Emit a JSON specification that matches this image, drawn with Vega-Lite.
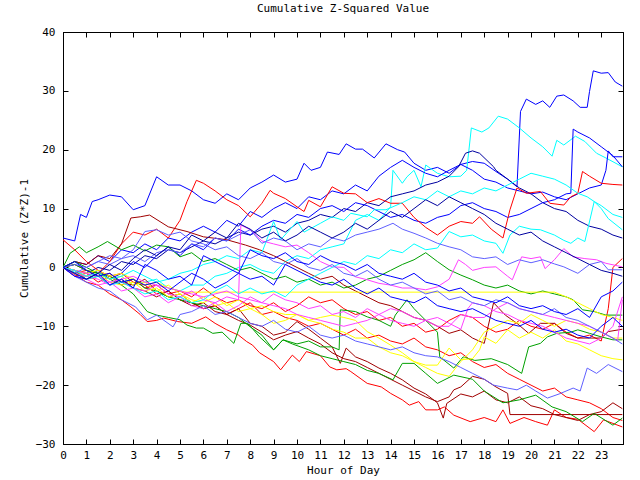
{
"$schema":"https://vega.github.io/schema/vega-lite/v6.json",
"width":560,"height":412,
"autosize":{"type":"none"},
"padding":{"left":63,"top":32,"right":17,"bottom":36},
"background":"#ffffff",
"title":{"text":"Cumulative Z-Squared Value","font":"DejaVu Sans Mono","fontSize":11,"fontWeight":"normal","color":"#000000","offset":12},
"config":{"view":{"stroke":"#000000","strokeWidth":1},"axis":{"grid":false,"labelFont":"DejaVu Sans Mono","titleFont":"DejaVu Sans Mono","labelFontSize":11,"titleFontSize":11,"titleFontWeight":"normal","labelColor":"#000000","titleColor":"#000000","domainColor":"#000000","tickColor":"#000000","tickSize":-5,"labelFlush":false,"labelOverlap":false}},
"data":{"values":[
{"s":"b1","x":0,"y":5},{"s":"b1","x":0.5,"y":4.5},{"s":"b1","x":0.75,"y":9},{"s":"b1","x":1,"y":8.5},{"s":"b1","x":1.25,"y":11.2},{"s":"b1","x":1.5,"y":11.5},{"s":"b1","x":2,"y":12.3},{"s":"b1","x":2.5,"y":12},{"s":"b1","x":3,"y":9.8},{"s":"b1","x":3.5,"y":10.5},{"s":"b1","x":4,"y":15.4},{"s":"b1","x":4.5,"y":14},{"s":"b1","x":5,"y":14},{"s":"b1","x":5.5,"y":13},{"s":"b1","x":6,"y":11.5},{"s":"b1","x":6.5,"y":10.9},{"s":"b1","x":7,"y":12.5},{"s":"b1","x":7.5,"y":11.5},{"s":"b1","x":8,"y":13.5},{"s":"b1","x":8.5,"y":14.5},{"s":"b1","x":9,"y":15.7},{"s":"b1","x":9.5,"y":14.5},{"s":"b1","x":10,"y":15},{"s":"b1","x":10.3,"y":17.7},{"s":"b1","x":10.6,"y":16.5},{"s":"b1","x":11,"y":17},{"s":"b1","x":11.3,"y":19.6},{"s":"b1","x":11.8,"y":19.2},{"s":"b1","x":12.1,"y":21},{"s":"b1","x":12.5,"y":20.1},{"s":"b1","x":12.8,"y":20.1},{"s":"b1","x":13.3,"y":18.6},{"s":"b1","x":13.8,"y":21},{"s":"b1","x":14.3,"y":20},{"s":"b1","x":14.6,"y":19.6},{"s":"b1","x":15,"y":17.7},{"s":"b1","x":15.5,"y":16.5},{"s":"b1","x":16,"y":17},{"s":"b1","x":16.5,"y":16},{"s":"b1","x":17,"y":17.5},{"s":"b1","x":17.5,"y":18},{"s":"b1","x":18,"y":17.7},{"s":"b1","x":18.5,"y":16.3},{"s":"b1","x":19,"y":15},{"s":"b1","x":19.4,"y":13.7},{"s":"b1","x":19.55,"y":26.5},{"s":"b1","x":19.8,"y":28.6},{"s":"b1","x":20.2,"y":27.7},{"s":"b1","x":20.5,"y":28.3},{"s":"b1","x":20.8,"y":27.2},{"s":"b1","x":21.1,"y":29.1},{"s":"b1","x":21.4,"y":29.3},{"s":"b1","x":21.8,"y":28.3},{"s":"b1","x":22.1,"y":27.2},{"s":"b1","x":22.4,"y":27.2},{"s":"b1","x":22.5,"y":29.9},{"s":"b1","x":22.66,"y":33.4},{"s":"b1","x":23,"y":33},{"s":"b1","x":23.3,"y":33.1},{"s":"b1","x":23.6,"y":31.5},{"s":"b1","x":23.9,"y":30.8},
{"s":"c1","x":0,"y":0},{"s":"c1","x":0.5,"y":-0.8},{"s":"c1","x":1,"y":-1.5},{"s":"c1","x":1.5,"y":-1},{"s":"c1","x":2,"y":-2},{"s":"c1","x":2.5,"y":-1.5},{"s":"c1","x":3,"y":-3},{"s":"c1","x":3.5,"y":-2.5},{"s":"c1","x":4,"y":-2},{"s":"c1","x":4.5,"y":-3.5},{"s":"c1","x":5,"y":-4},{"s":"c1","x":5.5,"y":-3},{"s":"c1","x":6,"y":-3},{"s":"c1","x":6.5,"y":-1.5},{"s":"c1","x":7,"y":-1},{"s":"c1","x":7.5,"y":0},{"s":"c1","x":8,"y":0.5},{"s":"c1","x":8.5,"y":-0.5},{"s":"c1","x":9,"y":-1},{"s":"c1","x":9.5,"y":1},{"s":"c1","x":10,"y":2},{"s":"c1","x":10.5,"y":1.5},{"s":"c1","x":11,"y":3},{"s":"c1","x":11.5,"y":3.5},{"s":"c1","x":12,"y":4},{"s":"c1","x":12.5,"y":8},{"s":"c1","x":13,"y":9},{"s":"c1","x":13.5,"y":8},{"s":"c1","x":14,"y":10.3},{"s":"c1","x":14.1,"y":16.5},{"s":"c1","x":14.5,"y":14.3},{"s":"c1","x":14.7,"y":15.4},{"s":"c1","x":15,"y":16.5},{"s":"c1","x":15.3,"y":13.7},{"s":"c1","x":15.5,"y":17.4},{"s":"c1","x":16,"y":16},{"s":"c1","x":16.5,"y":15.4},{"s":"c1","x":17,"y":15.5},{"s":"c1","x":17.25,"y":16.5},{"s":"c1","x":17.45,"y":23.7},{"s":"c1","x":17.9,"y":23},{"s":"c1","x":18.2,"y":23.7},{"s":"c1","x":18.6,"y":25.7},{"s":"c1","x":19,"y":25.2},{"s":"c1","x":19.5,"y":23.7},{"s":"c1","x":20,"y":22},{"s":"c1","x":20.5,"y":20.5},{"s":"c1","x":20.9,"y":18.9},{"s":"c1","x":21.1,"y":21.6},{"s":"c1","x":21.4,"y":20.8},{"s":"c1","x":21.9,"y":22.3},{"s":"c1","x":22.3,"y":21.4},{"s":"c1","x":22.8,"y":19.4},{"s":"c1","x":23.2,"y":18.6},{"s":"c1","x":23.9,"y":17.1},
{"s":"b2","x":0,"y":0},{"s":"b2","x":0.5,"y":1},{"s":"b2","x":1,"y":0.5},{"s":"b2","x":1.5,"y":2},{"s":"b2","x":2,"y":1},{"s":"b2","x":2.5,"y":3},{"s":"b2","x":3,"y":2.5},{"s":"b2","x":3.5,"y":4},{"s":"b2","x":4,"y":3},{"s":"b2","x":4.5,"y":5},{"s":"b2","x":5,"y":4.5},{"s":"b2","x":5.5,"y":6},{"s":"b2","x":6,"y":7},{"s":"b2","x":6.5,"y":6},{"s":"b2","x":7,"y":8},{"s":"b2","x":7.5,"y":7},{"s":"b2","x":8,"y":9.5},{"s":"b2","x":8.5,"y":8.5},{"s":"b2","x":9,"y":10},{"s":"b2","x":9.5,"y":11},{"s":"b2","x":10,"y":10},{"s":"b2","x":10.5,"y":12},{"s":"b2","x":11,"y":11.5},{"s":"b2","x":11.5,"y":13},{"s":"b2","x":12,"y":12.5},{"s":"b2","x":12.5,"y":14},{"s":"b2","x":13,"y":13},{"s":"b2","x":13.5,"y":15.5},{"s":"b2","x":14,"y":17},{"s":"b2","x":14.5,"y":18.2},{"s":"b2","x":15,"y":17},{"s":"b2","x":15.5,"y":16},{"s":"b2","x":16,"y":15.4},{"s":"b2","x":16.5,"y":16.5},{"s":"b2","x":17,"y":17.5},{"s":"b2","x":17.5,"y":16.5},{"s":"b2","x":18,"y":15},{"s":"b2","x":18.5,"y":14.5},{"s":"b2","x":19,"y":13.5},{"s":"b2","x":19.5,"y":13},{"s":"b2","x":20,"y":12.5},{"s":"b2","x":20.5,"y":12.8},{"s":"b2","x":21,"y":12},{"s":"b2","x":21.5,"y":11.5},{"s":"b2","x":22,"y":12.5},{"s":"b2","x":22.5,"y":13.5},{"s":"b2","x":23,"y":14},{"s":"b2","x":23.2,"y":16.5},{"s":"b2","x":23.3,"y":19.8},{"s":"b2","x":23.5,"y":18.8},{"s":"b2","x":23.9,"y":18.8},
{"s":"n1","x":0,"y":0},{"s":"n1","x":0.5,"y":-0.5},{"s":"n1","x":1,"y":-1},{"s":"n1","x":1.5,"y":0},{"s":"n1","x":2,"y":-0.5},{"s":"n1","x":2.5,"y":1},{"s":"n1","x":3,"y":0.5},{"s":"n1","x":3.5,"y":2},{"s":"n1","x":4,"y":1.5},{"s":"n1","x":4.5,"y":3},{"s":"n1","x":5,"y":2.5},{"s":"n1","x":5.5,"y":3.5},{"s":"n1","x":6,"y":4.5},{"s":"n1","x":6.5,"y":4},{"s":"n1","x":7,"y":5},{"s":"n1","x":7.5,"y":6},{"s":"n1","x":8,"y":5.5},{"s":"n1","x":8.5,"y":6.5},{"s":"n1","x":9,"y":7},{"s":"n1","x":9.5,"y":6},{"s":"n1","x":10,"y":7.5},{"s":"n1","x":10.5,"y":8},{"s":"n1","x":11,"y":9},{"s":"n1","x":11.5,"y":8.5},{"s":"n1","x":12,"y":10},{"s":"n1","x":12.5,"y":9.5},{"s":"n1","x":13,"y":11},{"s":"n1","x":13.5,"y":10.5},{"s":"n1","x":14,"y":12},{"s":"n1","x":14.5,"y":12.5},{"s":"n1","x":15,"y":13},{"s":"n1","x":15.5,"y":14},{"s":"n1","x":16,"y":14.5},{"s":"n1","x":16.5,"y":15.5},{"s":"n1","x":16.9,"y":17.1},{"s":"n1","x":17.2,"y":19.4},{"s":"n1","x":17.5,"y":19.8},{"s":"n1","x":17.8,"y":19.4},{"s":"n1","x":18.4,"y":17.1},{"s":"n1","x":18.5,"y":16.5},{"s":"n1","x":19,"y":15},{"s":"n1","x":19.5,"y":13.5},{"s":"n1","x":20,"y":12.5},{"s":"n1","x":20.5,"y":11},{"s":"n1","x":21,"y":10},{"s":"n1","x":21.5,"y":9.5},{"s":"n1","x":22,"y":8},{"s":"n1","x":22.5,"y":7},{"s":"n1","x":23,"y":6.5},{"s":"n1","x":23.5,"y":5.5},{"s":"n1","x":23.9,"y":5},
{"s":"b3","x":0,"y":0},{"s":"b3","x":0.5,"y":-1},{"s":"b3","x":1,"y":-1.5},{"s":"b3","x":1.5,"y":-0.5},{"s":"b3","x":2,"y":-2},{"s":"b3","x":2.5,"y":-1},{"s":"b3","x":3,"y":1},{"s":"b3","x":3.5,"y":0},{"s":"b3","x":4,"y":2},{"s":"b3","x":4.5,"y":3.5},{"s":"b3","x":5,"y":2},{"s":"b3","x":5.5,"y":4},{"s":"b3","x":6,"y":3},{"s":"b3","x":6.5,"y":5},{"s":"b3","x":7,"y":4.5},{"s":"b3","x":7.5,"y":6.5},{"s":"b3","x":8,"y":5.5},{"s":"b3","x":8.5,"y":7},{"s":"b3","x":9,"y":8},{"s":"b3","x":9.5,"y":7.5},{"s":"b3","x":10,"y":9},{"s":"b3","x":10.5,"y":8.5},{"s":"b3","x":11,"y":10},{"s":"b3","x":11.5,"y":10.5},{"s":"b3","x":12,"y":9.5},{"s":"b3","x":12.5,"y":11},{"s":"b3","x":13,"y":10.5},{"s":"b3","x":13.5,"y":9.5},{"s":"b3","x":14,"y":8.5},{"s":"b3","x":14.5,"y":9},{"s":"b3","x":15,"y":8},{"s":"b3","x":15.5,"y":7.5},{"s":"b3","x":16,"y":8.5},{"s":"b3","x":16.5,"y":9},{"s":"b3","x":17,"y":10.5},{"s":"b3","x":17.5,"y":11},{"s":"b3","x":18,"y":10},{"s":"b3","x":18.5,"y":9.5},{"s":"b3","x":19,"y":8.5},{"s":"b3","x":19.5,"y":9},{"s":"b3","x":20,"y":10},{"s":"b3","x":20.5,"y":11},{"s":"b3","x":21,"y":11.5},{"s":"b3","x":21.5,"y":12.5},{"s":"b3","x":21.7,"y":12.6},{"s":"b3","x":21.8,"y":23.5},{"s":"b3","x":22,"y":23},{"s":"b3","x":22.5,"y":22},{"s":"b3","x":23,"y":20.5},{"s":"b3","x":23.5,"y":19},{"s":"b3","x":23.9,"y":17.1},
{"s":"r1","x":0,"y":0},{"s":"r1","x":0.5,"y":-1},{"s":"r1","x":1,"y":-0.5},{"s":"r1","x":1.5,"y":-1},{"s":"r1","x":2,"y":1},{"s":"r1","x":2.5,"y":4},{"s":"r1","x":3,"y":6},{"s":"r1","x":3.5,"y":5.5},{"s":"r1","x":4,"y":6.5},{"s":"r1","x":4.5,"y":5},{"s":"r1","x":5,"y":8},{"s":"r1","x":5.3,"y":11.2},{"s":"r1","x":5.7,"y":14.8},{"s":"r1","x":6,"y":14.3},{"s":"r1","x":6.5,"y":13},{"s":"r1","x":7,"y":11.5},{"s":"r1","x":7.5,"y":10.5},{"s":"r1","x":8,"y":8.6},{"s":"r1","x":8.5,"y":10.9},{"s":"r1","x":8.85,"y":13.1},{"s":"r1","x":9,"y":12.6},{"s":"r1","x":9.5,"y":11.7},{"s":"r1","x":10,"y":10.3},{"s":"r1","x":10.3,"y":9.5},{"s":"r1","x":10.5,"y":11.4},{"s":"r1","x":11,"y":10.3},{"s":"r1","x":11.5,"y":13.7},{"s":"r1","x":12,"y":12.6},{"s":"r1","x":12.5,"y":12.5},{"s":"r1","x":13,"y":11},{"s":"r1","x":13.5,"y":11.7},{"s":"r1","x":14,"y":10.9},{"s":"r1","x":14.5,"y":10.9},{"s":"r1","x":15,"y":8.5},{"s":"r1","x":15.5,"y":6.8},{"s":"r1","x":16,"y":5.5},{"s":"r1","x":16.5,"y":7},{"s":"r1","x":17,"y":7.8},{"s":"r1","x":17.5,"y":7.5},{"s":"r1","x":17.8,"y":8.6},{"s":"r1","x":18.3,"y":6.5},{"s":"r1","x":18.8,"y":5},{"s":"r1","x":19.1,"y":9.8},{"s":"r1","x":19.4,"y":13.5},{"s":"r1","x":19.8,"y":12.6},{"s":"r1","x":20.4,"y":12.9},{"s":"r1","x":20.8,"y":10.9},{"s":"r1","x":21.4,"y":10.6},{"s":"r1","x":21.7,"y":12},{"s":"r1","x":22,"y":12.6},{"s":"r1","x":22.2,"y":16.3},{"s":"r1","x":22.5,"y":15.5},{"s":"r1","x":23,"y":14.3},{"s":"r1","x":23.5,"y":14.1},{"s":"r1","x":23.9,"y":14},
{"s":"r2","x":0,"y":0},{"s":"r2","x":0.5,"y":-1.2},{"s":"r2","x":1,"y":-2.5},{"s":"r2","x":1.5,"y":-3},{"s":"r2","x":2,"y":-4.5},{"s":"r2","x":2.5,"y":-5.5},{"s":"r2","x":2.9,"y":-6.7},{"s":"r2","x":3.3,"y":-8},{"s":"r2","x":3.6,"y":-9.2},{"s":"r2","x":4,"y":-9},{"s":"r2","x":4.3,"y":-8.6},{"s":"r2","x":4.9,"y":-9.2},{"s":"r2","x":5.5,"y":-9.5},{"s":"r2","x":6.1,"y":-8.4},{"s":"r2","x":6.5,"y":-9.5},{"s":"r2","x":7,"y":-10.6},{"s":"r2","x":7.5,"y":-11.5},{"s":"r2","x":7.85,"y":-12.6},{"s":"r2","x":8.1,"y":-13.2},{"s":"r2","x":8.4,"y":-14.5},{"s":"r2","x":9,"y":-16},{"s":"r2","x":9.3,"y":-17.4},{"s":"r2","x":9.8,"y":-14.9},{"s":"r2","x":10.1,"y":-16},{"s":"r2","x":10.4,"y":-14.3},{"s":"r2","x":11,"y":-15},{"s":"r2","x":11.4,"y":-16.9},{"s":"r2","x":11.7,"y":-17.4},{"s":"r2","x":12.1,"y":-17.2},{"s":"r2","x":12.3,"y":-17.7},{"s":"r2","x":13,"y":-19.7},{"s":"r2","x":13.6,"y":-20.3},{"s":"r2","x":14,"y":-21.4},{"s":"r2","x":14.5,"y":-22.5},{"s":"r2","x":14.8,"y":-23.4},{"s":"r2","x":15.2,"y":-22.8},{"s":"r2","x":15.5,"y":-24.2},{"s":"r2","x":16,"y":-24.2},{"s":"r2","x":16.3,"y":-23.7},{"s":"r2","x":16.7,"y":-25.1},{"s":"r2","x":17.4,"y":-26.2},{"s":"r2","x":18,"y":-25.5},{"s":"r2","x":18.5,"y":-26.2},{"s":"r2","x":18.8,"y":-24.2},{"s":"r2","x":19.1,"y":-26.5},{"s":"r2","x":19.7,"y":-25.5},{"s":"r2","x":20.2,"y":-26.2},{"s":"r2","x":20.7,"y":-26.8},{"s":"r2","x":21,"y":-24.2},{"s":"r2","x":21.5,"y":-25.5},{"s":"r2","x":22,"y":-25.8},{"s":"r2","x":22.7,"y":-27.9},{"s":"r2","x":23.1,"y":-25.9},{"s":"r2","x":23.9,"y":-27.1},
{"s":"r3","x":0,"y":0},{"s":"r3","x":0.5,"y":-1.5},{"s":"r3","x":1,"y":-1},{"s":"r3","x":1.5,"y":-2.5},{"s":"r3","x":2,"y":-1.5},{"s":"r3","x":2.5,"y":-3},{"s":"r3","x":3,"y":-2},{"s":"r3","x":3.5,"y":-3.5},{"s":"r3","x":4,"y":-3},{"s":"r3","x":4.5,"y":-4.5},{"s":"r3","x":5,"y":-4},{"s":"r3","x":5.5,"y":-5},{"s":"r3","x":6,"y":-3.5},{"s":"r3","x":6.5,"y":-5},{"s":"r3","x":7,"y":-6},{"s":"r3","x":7.5,"y":-5.5},{"s":"r3","x":8,"y":-6.5},{"s":"r3","x":8.5,"y":-7},{"s":"r3","x":9,"y":-6},{"s":"r3","x":9.5,"y":-7.5},{"s":"r3","x":10,"y":-6.5},{"s":"r3","x":10.5,"y":-5},{"s":"r3","x":11,"y":-6},{"s":"r3","x":11.5,"y":-5.5},{"s":"r3","x":12,"y":-7},{"s":"r3","x":12.5,"y":-8},{"s":"r3","x":13,"y":-7.5},{"s":"r3","x":13.5,"y":-9},{"s":"r3","x":14,"y":-8.5},{"s":"r3","x":14.5,"y":-10},{"s":"r3","x":15,"y":-9.5},{"s":"r3","x":15.5,"y":-11},{"s":"r3","x":16,"y":-10.5},{"s":"r3","x":16.5,"y":-9},{"s":"r3","x":17,"y":-8},{"s":"r3","x":17.5,"y":-8.5},{"s":"r3","x":18,"y":-10},{"s":"r3","x":18.5,"y":-11},{"s":"r3","x":19,"y":-10.5},{"s":"r3","x":19.5,"y":-9},{"s":"r3","x":20,"y":-10},{"s":"r3","x":20.5,"y":-10.5},{"s":"r3","x":21,"y":-9.5},{"s":"r3","x":21.5,"y":-11},{"s":"r3","x":22,"y":-12},{"s":"r3","x":22.5,"y":-11.5},{"s":"r3","x":23,"y":-12.5},{"s":"r3","x":23.3,"y":-7},{"s":"r3","x":23.5,"y":0},{"s":"r3","x":23.9,"y":1.5},
{"s":"r4","x":0,"y":4.7},{"s":"r4","x":0.5,"y":3},{"s":"r4","x":1,"y":1},{"s":"r4","x":1.5,"y":-0.5},{"s":"r4","x":2,"y":-1.5},{"s":"r4","x":2.5,"y":-1},{"s":"r4","x":3,"y":-2.5},{"s":"r4","x":3.5,"y":-3},{"s":"r4","x":4,"y":-4.5},{"s":"r4","x":4.5,"y":-4},{"s":"r4","x":5,"y":-5.5},{"s":"r4","x":5.5,"y":-6},{"s":"r4","x":6,"y":-7},{"s":"r4","x":6.5,"y":-6.5},{"s":"r4","x":7,"y":-8},{"s":"r4","x":7.5,"y":-7},{"s":"r4","x":8,"y":-6},{"s":"r4","x":8.5,"y":-8},{"s":"r4","x":9,"y":-7.5},{"s":"r4","x":9.5,"y":-8.5},{"s":"r4","x":10,"y":-9},{"s":"r4","x":10.5,"y":-10},{"s":"r4","x":11,"y":-9.5},{"s":"r4","x":11.5,"y":-10.5},{"s":"r4","x":12,"y":-11.5},{"s":"r4","x":12.5,"y":-10.5},{"s":"r4","x":13,"y":-12},{"s":"r4","x":13.5,"y":-11.5},{"s":"r4","x":14,"y":-12.5},{"s":"r4","x":14.5,"y":-13},{"s":"r4","x":15,"y":-12},{"s":"r4","x":15.5,"y":-13.5},{"s":"r4","x":16,"y":-14},{"s":"r4","x":16.5,"y":-15},{"s":"r4","x":17,"y":-14.5},{"s":"r4","x":17.5,"y":-16},{"s":"r4","x":18,"y":-17},{"s":"r4","x":18.5,"y":-16.5},{"s":"r4","x":19,"y":-18},{"s":"r4","x":19.5,"y":-19},{"s":"r4","x":20,"y":-20},{"s":"r4","x":20.5,"y":-21},{"s":"r4","x":21,"y":-20.5},{"s":"r4","x":21.5,"y":-22},{"s":"r4","x":22,"y":-22.5},{"s":"r4","x":22.5,"y":-23},{"s":"r4","x":23,"y":-24},{"s":"r4","x":23.5,"y":-25.5},{"s":"r4","x":23.9,"y":-26},
{"s":"d1","x":0,"y":0},{"s":"d1","x":0.5,"y":0.5},{"s":"d1","x":1,"y":-0.5},{"s":"d1","x":1.5,"y":-1.5},{"s":"d1","x":2,"y":-1},{"s":"d1","x":2.5,"y":-2.5},{"s":"d1","x":3,"y":-3},{"s":"d1","x":3.5,"y":-2},{"s":"d1","x":4,"y":-4},{"s":"d1","x":4.5,"y":-5},{"s":"d1","x":5,"y":-4.5},{"s":"d1","x":5.5,"y":-6},{"s":"d1","x":6,"y":-7},{"s":"d1","x":6.5,"y":-6.5},{"s":"d1","x":7,"y":-8},{"s":"d1","x":7.5,"y":-9},{"s":"d1","x":8,"y":-9.8},{"s":"d1","x":8.5,"y":-11},{"s":"d1","x":9,"y":-12.3},{"s":"d1","x":9.5,"y":-11.5},{"s":"d1","x":10,"y":-10.9},{"s":"d1","x":10.5,"y":-12},{"s":"d1","x":11,"y":-13},{"s":"d1","x":11.5,"y":-14.5},{"s":"d1","x":12,"y":-15.5},{"s":"d1","x":12.5,"y":-16},{"s":"d1","x":13,"y":-17},{"s":"d1","x":13.5,"y":-18},{"s":"d1","x":14,"y":-19},{"s":"d1","x":14.5,"y":-20},{"s":"d1","x":15,"y":-21},{"s":"d1","x":15.5,"y":-22},{"s":"d1","x":16,"y":-22.8},{"s":"d1","x":16.5,"y":-22},{"s":"d1","x":16.7,"y":-20.8},{"s":"d1","x":17,"y":-20.3},{"s":"d1","x":17.5,"y":-18.5},{"s":"d1","x":18,"y":-19},{"s":"d1","x":18.5,"y":-20.3},{"s":"d1","x":19,"y":-21.4},{"s":"d1","x":19.1,"y":-25},{"s":"d1","x":23.9,"y":-25},
{"s":"d2","x":0,"y":0},{"s":"d2","x":0.5,"y":-0.5},{"s":"d2","x":1,"y":-2},{"s":"d2","x":1.5,"y":-1.5},{"s":"d2","x":2,"y":-3},{"s":"d2","x":2.5,"y":-2},{"s":"d2","x":3,"y":-3.5},{"s":"d2","x":3.5,"y":-4},{"s":"d2","x":4,"y":-5},{"s":"d2","x":4.5,"y":-4},{"s":"d2","x":5,"y":-5.5},{"s":"d2","x":5.5,"y":-6.5},{"s":"d2","x":6,"y":-6},{"s":"d2","x":6.5,"y":-7.5},{"s":"d2","x":7,"y":-8},{"s":"d2","x":7.5,"y":-7},{"s":"d2","x":8,"y":-9.5},{"s":"d2","x":8.5,"y":-10},{"s":"d2","x":9,"y":-11.5},{"s":"d2","x":9.5,"y":-11},{"s":"d2","x":10,"y":-9.2},{"s":"d2","x":10.5,"y":-10.5},{"s":"d2","x":11,"y":-12},{"s":"d2","x":11.5,"y":-13.5},{"s":"d2","x":11.85,"y":-16.3},{"s":"d2","x":12.1,"y":-13.7},{"s":"d2","x":12.5,"y":-15.2},{"s":"d2","x":13,"y":-16},{"s":"d2","x":13.5,"y":-17.1},{"s":"d2","x":14,"y":-18},{"s":"d2","x":14.5,"y":-19.1},{"s":"d2","x":15,"y":-20.5},{"s":"d2","x":15.5,"y":-21.5},{"s":"d2","x":16,"y":-23},{"s":"d2","x":16.25,"y":-25.6},{"s":"d2","x":16.4,"y":-23.1},{"s":"d2","x":17,"y":-21.5},{"s":"d2","x":17.5,"y":-22},{"s":"d2","x":18,"y":-21},{"s":"d2","x":18.5,"y":-22.5},{"s":"d2","x":19,"y":-23},{"s":"d2","x":19.5,"y":-22},{"s":"d2","x":20,"y":-23.5},{"s":"d2","x":20.5,"y":-24},{"s":"d2","x":21,"y":-25},{"s":"d2","x":21.5,"y":-25.5},{"s":"d2","x":22,"y":-26},{"s":"d2","x":22.5,"y":-25},{"s":"d2","x":23,"y":-24.5},{"s":"d2","x":23.5,"y":-23},{"s":"d2","x":23.9,"y":-24},
{"s":"d3","x":0,"y":0},{"s":"d3","x":0.5,"y":1},{"s":"d3","x":1,"y":0.5},{"s":"d3","x":1.5,"y":2},{"s":"d3","x":2,"y":1.5},{"s":"d3","x":2.5,"y":4},{"s":"d3","x":2.9,"y":8.4},{"s":"d3","x":3.3,"y":8.6},{"s":"d3","x":3.7,"y":8.9},{"s":"d3","x":4.5,"y":6.9},{"s":"d3","x":5.3,"y":6.1},{"s":"d3","x":6,"y":5.2},{"s":"d3","x":7,"y":4.7},{"s":"d3","x":7.8,"y":3.8},{"s":"d3","x":8.4,"y":3},{"s":"d3","x":9,"y":2},{"s":"d3","x":9.5,"y":1},{"s":"d3","x":10,"y":0},{"s":"d3","x":10.5,"y":-1},{"s":"d3","x":11,"y":-2},{"s":"d3","x":11.5,"y":-1.5},{"s":"d3","x":12,"y":-3},{"s":"d3","x":12.5,"y":-4},{"s":"d3","x":13,"y":-5},{"s":"d3","x":13.5,"y":-6},{"s":"d3","x":14,"y":-6.5},{"s":"d3","x":14.5,"y":-7.5},{"s":"d3","x":15,"y":-8.5},{"s":"d3","x":15.5,"y":-9},{"s":"d3","x":16,"y":-10},{"s":"d3","x":16.5,"y":-11.2},{"s":"d3","x":17,"y":-10.6},{"s":"d3","x":17.5,"y":-12},{"s":"d3","x":18,"y":-12.9},{"s":"d3","x":18.4,"y":-6},{"s":"d3","x":18.9,"y":-8.1},{"s":"d3","x":19.4,"y":-9.5},{"s":"d3","x":19.9,"y":-11.2},{"s":"d3","x":20.4,"y":-9.5},{"s":"d3","x":21,"y":-9.5},{"s":"d3","x":21.5,"y":-11.2},{"s":"d3","x":22,"y":-12},{"s":"d3","x":22.5,"y":-12},{"s":"d3","x":23,"y":-12},{"s":"d3","x":23.3,"y":-10.9},{"s":"d3","x":23.9,"y":-10.5},
{"s":"g1","x":0,"y":0},{"s":"g1","x":0.5,"y":1},{"s":"g1","x":1,"y":0},{"s":"g1","x":1.5,"y":-1},{"s":"g1","x":2,"y":-2},{"s":"g1","x":2.5,"y":-3},{"s":"g1","x":3,"y":-4.5},{"s":"g1","x":3.6,"y":-7.5},{"s":"g1","x":4,"y":-8.1},{"s":"g1","x":4.5,"y":-8.5},{"s":"g1","x":5,"y":-8.9},{"s":"g1","x":5.3,"y":-9.8},{"s":"g1","x":5.7,"y":-10.3},{"s":"g1","x":6,"y":-10.3},{"s":"g1","x":6.4,"y":-11.2},{"s":"g1","x":6.8,"y":-11},{"s":"g1","x":7.3,"y":-12.9},{"s":"g1","x":7.6,"y":-9.5},{"s":"g1","x":7.9,"y":-9.5},{"s":"g1","x":8.4,"y":-11.8},{"s":"g1","x":9,"y":-14},{"s":"g1","x":9.4,"y":-12.3},{"s":"g1","x":9.8,"y":-13},{"s":"g1","x":10.5,"y":-14},{"s":"g1","x":11,"y":-15},{"s":"g1","x":11.5,"y":-15.5},{"s":"g1","x":12,"y":-16},{"s":"g1","x":12.5,"y":-16.5},{"s":"g1","x":13,"y":-17.5},{"s":"g1","x":13.5,"y":-18},{"s":"g1","x":14.1,"y":-19.1},{"s":"g1","x":14.5,"y":-16.3},{"s":"g1","x":15,"y":-16.3},{"s":"g1","x":15.5,"y":-18},{"s":"g1","x":16,"y":-19.7},{"s":"g1","x":16.7,"y":-18.3},{"s":"g1","x":17.5,"y":-19},{"s":"g1","x":18,"y":-21},{"s":"g1","x":18.8,"y":-23},{"s":"g1","x":19.5,"y":-22.5},{"s":"g1","x":20.2,"y":-21.7},{"s":"g1","x":20.9,"y":-23.7},{"s":"g1","x":21.5,"y":-24.5},{"s":"g1","x":22.2,"y":-26.2},{"s":"g1","x":22.7,"y":-24.8},{"s":"g1","x":23.5,"y":-26.8},{"s":"g1","x":23.9,"y":-25.6},
{"s":"g2","x":0,"y":0},{"s":"g2","x":0.3,"y":2.4},{"s":"g2","x":0.7,"y":3.5},{"s":"g2","x":1,"y":2.5},{"s":"g2","x":1.5,"y":3.5},{"s":"g2","x":1.9,"y":4.4},{"s":"g2","x":2.5,"y":3},{"s":"g2","x":3,"y":3.8},{"s":"g2","x":3.5,"y":2.8},{"s":"g2","x":4,"y":3.8},{"s":"g2","x":4.5,"y":3.5},{"s":"g2","x":5,"y":1.8},{"s":"g2","x":5.5,"y":2.5},{"s":"g2","x":6,"y":1},{"s":"g2","x":6.5,"y":1.5},{"s":"g2","x":7,"y":0.5},{"s":"g2","x":7.5,"y":-0.5},{"s":"g2","x":8,"y":0},{"s":"g2","x":8.5,"y":-1},{"s":"g2","x":9,"y":-2},{"s":"g2","x":9.5,"y":-1.5},{"s":"g2","x":10,"y":-2.5},{"s":"g2","x":10.5,"y":-2},{"s":"g2","x":11,"y":-3},{"s":"g2","x":11.5,"y":-2.5},{"s":"g2","x":12,"y":-3.5},{"s":"g2","x":12.5,"y":-3},{"s":"g2","x":13,"y":-2},{"s":"g2","x":13.5,"y":-1.5},{"s":"g2","x":14,"y":-0.5},{"s":"g2","x":14.5,"y":0.5},{"s":"g2","x":15,"y":1.3},{"s":"g2","x":15.5,"y":2.5},{"s":"g2","x":16,"y":1},{"s":"g2","x":16.5,"y":-0.4},{"s":"g2","x":17,"y":-1.3},{"s":"g2","x":17.5,"y":-2.1},{"s":"g2","x":18,"y":-3},{"s":"g2","x":18.5,"y":-3.5},{"s":"g2","x":19,"y":-3},{"s":"g2","x":19.5,"y":-4},{"s":"g2","x":20,"y":-4.5},{"s":"g2","x":20.5,"y":-4},{"s":"g2","x":21,"y":-4.5},{"s":"g2","x":21.5,"y":-5},{"s":"g2","x":21.8,"y":-5.5},{"s":"g2","x":22.2,"y":-7.2},{"s":"g2","x":22.7,"y":-7.5},{"s":"g2","x":23.2,"y":-8.1},{"s":"g2","x":23.9,"y":-8.1},
{"s":"g3","x":0,"y":0},{"s":"g3","x":0.5,"y":0.5},{"s":"g3","x":1,"y":-0.5},{"s":"g3","x":1.5,"y":-1},{"s":"g3","x":2,"y":-1.5},{"s":"g3","x":2.5,"y":-2.5},{"s":"g3","x":3,"y":-2},{"s":"g3","x":3.5,"y":-3.5},{"s":"g3","x":4,"y":-4},{"s":"g3","x":4.5,"y":-5},{"s":"g3","x":5,"y":-5.5},{"s":"g3","x":5.5,"y":-6},{"s":"g3","x":6,"y":-6.5},{"s":"g3","x":6.5,"y":-7},{"s":"g3","x":7,"y":-7.5},{"s":"g3","x":7.5,"y":-8.5},{"s":"g3","x":8,"y":-10.1},{"s":"g3","x":8.5,"y":-11.5},{"s":"g3","x":9,"y":-14},{"s":"g3","x":9.4,"y":-12.3},{"s":"g3","x":10,"y":-13},{"s":"g3","x":10.5,"y":-12.5},{"s":"g3","x":11,"y":-13.5},{"s":"g3","x":11.5,"y":-13.5},{"s":"g3","x":11.8,"y":-14},{"s":"g3","x":11.85,"y":-7.2},{"s":"g3","x":12.5,"y":-7.5},{"s":"g3","x":13,"y":-8.4},{"s":"g3","x":13.5,"y":-9},{"s":"g3","x":14,"y":-10},{"s":"g3","x":14.2,"y":-8.1},{"s":"g3","x":14.7,"y":-5.5},{"s":"g3","x":15,"y":-7},{"s":"g3","x":15.5,"y":-9},{"s":"g3","x":16,"y":-11},{"s":"g3","x":16.1,"y":-15.2},{"s":"g3","x":16.7,"y":-17.1},{"s":"g3","x":17.1,"y":-15.2},{"s":"g3","x":17.6,"y":-15.8},{"s":"g3","x":18.3,"y":-15.5},{"s":"g3","x":19,"y":-16.5},{"s":"g3","x":19.6,"y":-18},{"s":"g3","x":19.9,"y":-13.5},{"s":"g3","x":20.4,"y":-12.9},{"s":"g3","x":20.7,"y":-11.8},{"s":"g3","x":21.1,"y":-11.2},{"s":"g3","x":21.7,"y":-11},{"s":"g3","x":22,"y":-10.6},{"s":"g3","x":22.5,"y":-11.2},{"s":"g3","x":23,"y":-11.8},{"s":"g3","x":23.5,"y":-12.3},{"s":"g3","x":23.9,"y":-12.3},
{"s":"y1","x":0,"y":0},{"s":"y1","x":0.5,"y":-0.5},{"s":"y1","x":1,"y":-1},{"s":"y1","x":1.5,"y":-0.5},{"s":"y1","x":2,"y":-1.5},{"s":"y1","x":2.5,"y":-1},{"s":"y1","x":3,"y":-2},{"s":"y1","x":3.5,"y":-3},{"s":"y1","x":4,"y":-2.5},{"s":"y1","x":4.5,"y":-3.5},{"s":"y1","x":5,"y":-4},{"s":"y1","x":5.2,"y":-4.2},{"s":"y1","x":21,"y":-4.2},{"s":"y1","x":21.5,"y":-5},{"s":"y1","x":22,"y":-6},{"s":"y1","x":22.5,"y":-7},{"s":"y1","x":23,"y":-8},{"s":"y1","x":23.5,"y":-8.5},{"s":"y1","x":23.9,"y":-9},
{"s":"y2","x":0,"y":0},{"s":"y2","x":0.5,"y":-1},{"s":"y2","x":1,"y":-1.5},{"s":"y2","x":1.5,"y":-1},{"s":"y2","x":2,"y":-2.5},{"s":"y2","x":2.5,"y":-3},{"s":"y2","x":3,"y":-2.5},{"s":"y2","x":3.5,"y":-4},{"s":"y2","x":4,"y":-3.5},{"s":"y2","x":4.5,"y":-5},{"s":"y2","x":5,"y":-4.5},{"s":"y2","x":5.5,"y":-6},{"s":"y2","x":6,"y":-5},{"s":"y2","x":6.5,"y":-6.5},{"s":"y2","x":7,"y":-6},{"s":"y2","x":7.5,"y":-7.5},{"s":"y2","x":8,"y":-7},{"s":"y2","x":8.5,"y":-8},{"s":"y2","x":9,"y":-9.5},{"s":"y2","x":9.5,"y":-9},{"s":"y2","x":10,"y":-8},{"s":"y2","x":10.5,"y":-9},{"s":"y2","x":11,"y":-8.5},{"s":"y2","x":11.5,"y":-8.1},{"s":"y2","x":12,"y":-8.5},{"s":"y2","x":12.5,"y":-9},{"s":"y2","x":13,"y":-10.9},{"s":"y2","x":13.5,"y":-12},{"s":"y2","x":14,"y":-13.2},{"s":"y2","x":14.5,"y":-14.5},{"s":"y2","x":15,"y":-16},{"s":"y2","x":15.5,"y":-16.6},{"s":"y2","x":16,"y":-16.6},{"s":"y2","x":16.5,"y":-13.7},{"s":"y2","x":17,"y":-15.7},{"s":"y2","x":17.5,"y":-15.5},{"s":"y2","x":17.8,"y":-14},{"s":"y2","x":18,"y":-11.8},{"s":"y2","x":18.5,"y":-12.9},{"s":"y2","x":19,"y":-10.6},{"s":"y2","x":19.5,"y":-12},{"s":"y2","x":20,"y":-11},{"s":"y2","x":20.5,"y":-12},{"s":"y2","x":21,"y":-10.6},{"s":"y2","x":21.5,"y":-12.5},{"s":"y2","x":22,"y":-13},{"s":"y2","x":22.5,"y":-14},{"s":"y2","x":23,"y":-15},{"s":"y2","x":23.5,"y":-15.5},{"s":"y2","x":23.9,"y":-15.7},
{"s":"y3","x":0,"y":0},{"s":"y3","x":0.5,"y":-0.5},{"s":"y3","x":1,"y":-1.5},{"s":"y3","x":1.5,"y":-1},{"s":"y3","x":2,"y":-2},{"s":"y3","x":2.5,"y":-1.5},{"s":"y3","x":3,"y":-3},{"s":"y3","x":3.5,"y":-2.5},{"s":"y3","x":4,"y":-4},{"s":"y3","x":4.5,"y":-3},{"s":"y3","x":5,"y":-4.5},{"s":"y3","x":5.5,"y":-5.5},{"s":"y3","x":6,"y":-6},{"s":"y3","x":6.5,"y":-5},{"s":"y3","x":7,"y":-6.5},{"s":"y3","x":7.5,"y":-5.5},{"s":"y3","x":8,"y":-7},{"s":"y3","x":8.5,"y":-6.5},{"s":"y3","x":9,"y":-7.5},{"s":"y3","x":9.5,"y":-8},{"s":"y3","x":10,"y":-8},{"s":"y3","x":10.5,"y":-9},{"s":"y3","x":11,"y":-9.5},{"s":"y3","x":11.5,"y":-10.5},{"s":"y3","x":12,"y":-11},{"s":"y3","x":12.5,"y":-12},{"s":"y3","x":13,"y":-12},{"s":"y3","x":13.5,"y":-13.5},{"s":"y3","x":14,"y":-14.5},{"s":"y3","x":14.5,"y":-15},{"s":"y3","x":15,"y":-16},{"s":"y3","x":15.5,"y":-17},{"s":"y3","x":16,"y":-18},{"s":"y3","x":16.5,"y":-18.5},{"s":"y3","x":17,"y":-16},{"s":"y3","x":17.5,"y":-14},{"s":"y3","x":18,"y":-11},{"s":"y3","x":18.5,"y":-10},{"s":"y3","x":19,"y":-9},{"s":"y3","x":19.5,"y":-9.5},{"s":"y3","x":20,"y":-8},{"s":"y3","x":20.5,"y":-9},{"s":"y3","x":21,"y":-10},{"s":"y3","x":21.5,"y":-9},{"s":"y3","x":22,"y":-9.5},{"s":"y3","x":22.5,"y":-10.5},{"s":"y3","x":23,"y":-11},{"s":"y3","x":23.5,"y":-12},{"s":"y3","x":23.9,"y":-12},
{"s":"m1","x":0,"y":0},{"s":"m1","x":0.5,"y":-1},{"s":"m1","x":1,"y":-1.5},{"s":"m1","x":1.5,"y":-2},{"s":"m1","x":2,"y":-3},{"s":"m1","x":2.5,"y":-2.5},{"s":"m1","x":3,"y":-3.5},{"s":"m1","x":3.5,"y":-4},{"s":"m1","x":4,"y":-3},{"s":"m1","x":4.5,"y":-4.5},{"s":"m1","x":5,"y":-5},{"s":"m1","x":5.5,"y":-4},{"s":"m1","x":6,"y":-5.5},{"s":"m1","x":6.5,"y":-6},{"s":"m1","x":7,"y":-5},{"s":"m1","x":7.5,"y":-5.5},{"s":"m1","x":7.6,"y":7.2},{"s":"m1","x":8,"y":6.4},{"s":"m1","x":8.5,"y":4.5},{"s":"m1","x":9,"y":4},{"s":"m1","x":9.5,"y":3.5},{"s":"m1","x":10,"y":3.8},{"s":"m1","x":10.5,"y":2.5},{"s":"m1","x":11,"y":1},{"s":"m1","x":11.5,"y":0.1},{"s":"m1","x":12,"y":0},{"s":"m1","x":12.5,"y":-1.6},{"s":"m1","x":13,"y":-2.1},{"s":"m1","x":13.5,"y":-2.7},{"s":"m1","x":14,"y":-3},{"s":"m1","x":14.5,"y":-3.5},{"s":"m1","x":15,"y":-3.5},{"s":"m1","x":15.5,"y":-3.8},{"s":"m1","x":16,"y":-3.3},{"s":"m1","x":16.5,"y":-2},{"s":"m1","x":16.9,"y":1.3},{"s":"m1","x":17.2,"y":0.5},{"s":"m1","x":17.5,"y":-0.5},{"s":"m1","x":18,"y":0},{"s":"m1","x":18.5,"y":0.1},{"s":"m1","x":19,"y":-1.5},{"s":"m1","x":19.2,"y":-2.1},{"s":"m1","x":19.6,"y":1.8},{"s":"m1","x":20,"y":1.5},{"s":"m1","x":20.4,"y":1.8},{"s":"m1","x":20.6,"y":-0.2},{"s":"m1","x":21,"y":1.3},{"s":"m1","x":21.4,"y":3.2},{"s":"m1","x":21.8,"y":1.8},{"s":"m1","x":22.3,"y":1.5},{"s":"m1","x":22.8,"y":1.3},{"s":"m1","x":23.2,"y":0.7},{"s":"m1","x":23.9,"y":0.1},
{"s":"m2","x":0,"y":0},{"s":"m2","x":0.5,"y":-1.5},{"s":"m2","x":1,"y":-2},{"s":"m2","x":1.5,"y":-3},{"s":"m2","x":2,"y":-2.5},{"s":"m2","x":2.5,"y":-4},{"s":"m2","x":3,"y":-3.5},{"s":"m2","x":3.5,"y":-5},{"s":"m2","x":4,"y":-4.5},{"s":"m2","x":4.5,"y":-6},{"s":"m2","x":5,"y":-5},{"s":"m2","x":5.5,"y":-6.5},{"s":"m2","x":6,"y":-7},{"s":"m2","x":6.5,"y":-6},{"s":"m2","x":7,"y":-7.5},{"s":"m2","x":7.5,"y":-6.5},{"s":"m2","x":8,"y":-5},{"s":"m2","x":8.5,"y":-6},{"s":"m2","x":9,"y":-4.5},{"s":"m2","x":9.5,"y":-5.5},{"s":"m2","x":10,"y":-6},{"s":"m2","x":10.5,"y":-7},{"s":"m2","x":11,"y":-6.5},{"s":"m2","x":11.5,"y":-8},{"s":"m2","x":12,"y":-7.5},{"s":"m2","x":12.5,"y":-8.5},{"s":"m2","x":13,"y":-7},{"s":"m2","x":13.5,"y":-8},{"s":"m2","x":14,"y":-9},{"s":"m2","x":14.5,"y":-9.5},{"s":"m2","x":15,"y":-10},{"s":"m2","x":15.5,"y":-9},{"s":"m2","x":16,"y":-8.5},{"s":"m2","x":16.5,"y":-9.5},{"s":"m2","x":17,"y":-10.5},{"s":"m2","x":17.3,"y":-7},{"s":"m2","x":17.5,"y":-6},{"s":"m2","x":18,"y":-6.5},{"s":"m2","x":18.5,"y":-7.5},{"s":"m2","x":19,"y":-8},{"s":"m2","x":19.5,"y":-9},{"s":"m2","x":20,"y":-9.5},{"s":"m2","x":20.5,"y":-10},{"s":"m2","x":21,"y":-11},{"s":"m2","x":21.5,"y":-12},{"s":"m2","x":22,"y":-12.5},{"s":"m2","x":22.5,"y":-13},{"s":"m2","x":23,"y":-12},{"s":"m2","x":23.5,"y":-10},{"s":"m2","x":23.9,"y":-5},
{"s":"m3","x":0,"y":0},{"s":"m3","x":0.5,"y":-0.5},{"s":"m3","x":1,"y":-1},{"s":"m3","x":1.5,"y":-1.5},{"s":"m3","x":2,"y":-2.5},{"s":"m3","x":2.5,"y":-2},{"s":"m3","x":3,"y":-1.5},{"s":"m3","x":3.5,"y":-2.5},{"s":"m3","x":4,"y":-3},{"s":"m3","x":4.5,"y":-3.5},{"s":"m3","x":5,"y":-4},{"s":"m3","x":5.5,"y":-4.5},{"s":"m3","x":6,"y":-5},{"s":"m3","x":6.5,"y":-4.5},{"s":"m3","x":7,"y":-4},{"s":"m3","x":7.5,"y":-5},{"s":"m3","x":8,"y":-5.5},{"s":"m3","x":8.5,"y":-6},{"s":"m3","x":9,"y":-6.5},{"s":"m3","x":9.5,"y":-7},{"s":"m3","x":10,"y":-8},{"s":"m3","x":10.5,"y":-8.5},{"s":"m3","x":11,"y":-9},{"s":"m3","x":11.5,"y":-9.5},{"s":"m3","x":12,"y":-10},{"s":"m3","x":12.5,"y":-9.5},{"s":"m3","x":13,"y":-9},{"s":"m3","x":13.5,"y":-8},{"s":"m3","x":14,"y":-7},{"s":"m3","x":14.5,"y":-7.5},{"s":"m3","x":15,"y":-8.5},{"s":"m3","x":15.5,"y":-9},{"s":"m3","x":16,"y":-10},{"s":"m3","x":16.5,"y":-10},{"s":"m3","x":17,"y":-8},{"s":"m3","x":17.5,"y":-8.5},{"s":"m3","x":18,"y":-8.5},{"s":"m3","x":18.5,"y":-7},{"s":"m3","x":19,"y":-6},{"s":"m3","x":19.5,"y":-7},{"s":"m3","x":20,"y":-7.5},{"s":"m3","x":20.5,"y":-8},{"s":"m3","x":21,"y":-8.5},{"s":"m3","x":21.5,"y":-9},{"s":"m3","x":22,"y":-9.5},{"s":"m3","x":22.5,"y":-10},{"s":"m3","x":23,"y":-11},{"s":"m3","x":23.5,"y":-12},{"s":"m3","x":23.7,"y":-12.5},{"s":"m3","x":23.9,"y":-5.5},
{"s":"c2","x":0,"y":0},{"s":"c2","x":0.5,"y":-0.5},{"s":"c2","x":1,"y":-1.5},{"s":"c2","x":1.5,"y":-1},{"s":"c2","x":2,"y":-2},{"s":"c2","x":2.5,"y":-1.5},{"s":"c2","x":3,"y":-0.5},{"s":"c2","x":3.5,"y":-1.5},{"s":"c2","x":4,"y":-2.5},{"s":"c2","x":4.5,"y":-2},{"s":"c2","x":5,"y":-1},{"s":"c2","x":5.5,"y":-0.5},{"s":"c2","x":6,"y":0.5},{"s":"c2","x":6.5,"y":1},{"s":"c2","x":7,"y":2},{"s":"c2","x":7.5,"y":1.5},{"s":"c2","x":8,"y":3},{"s":"c2","x":8.5,"y":2.5},{"s":"c2","x":9,"y":7.8},{"s":"c2","x":9.3,"y":4.7},{"s":"c2","x":10,"y":7.8},{"s":"c2","x":10.3,"y":6},{"s":"c2","x":11,"y":7.5},{"s":"c2","x":11.5,"y":8.6},{"s":"c2","x":12,"y":8},{"s":"c2","x":12.3,"y":9.2},{"s":"c2","x":13,"y":8.6},{"s":"c2","x":13.3,"y":9.8},{"s":"c2","x":13.8,"y":9.8},{"s":"c2","x":14.5,"y":11},{"s":"c2","x":15,"y":12},{"s":"c2","x":15.5,"y":11.5},{"s":"c2","x":16,"y":13},{"s":"c2","x":16.5,"y":12},{"s":"c2","x":17,"y":13},{"s":"c2","x":17.5,"y":12.5},{"s":"c2","x":18,"y":13.5},{"s":"c2","x":18.5,"y":13},{"s":"c2","x":19,"y":14},{"s":"c2","x":19.5,"y":15},{"s":"c2","x":20,"y":16},{"s":"c2","x":20.5,"y":15.5},{"s":"c2","x":21,"y":15},{"s":"c2","x":21.5,"y":14},{"s":"c2","x":22,"y":12.6},{"s":"c2","x":22.4,"y":12},{"s":"c2","x":22.7,"y":11.2},{"s":"c2","x":23,"y":10},{"s":"c2","x":23.3,"y":8.3},{"s":"c2","x":23.9,"y":6.4},
{"s":"c3","x":0,"y":0},{"s":"c3","x":0.5,"y":-1},{"s":"c3","x":1,"y":-2},{"s":"c3","x":1.5,"y":-1.5},{"s":"c3","x":2,"y":-3},{"s":"c3","x":2.5,"y":-2.5},{"s":"c3","x":3,"y":-3.5},{"s":"c3","x":3.5,"y":-4.5},{"s":"c3","x":4,"y":-4},{"s":"c3","x":4.5,"y":-5.5},{"s":"c3","x":5,"y":-5},{"s":"c3","x":5.5,"y":-6},{"s":"c3","x":6,"y":-5.5},{"s":"c3","x":6.5,"y":-4},{"s":"c3","x":7,"y":-3},{"s":"c3","x":7.5,"y":-4.5},{"s":"c3","x":8,"y":-3.5},{"s":"c3","x":8.5,"y":-4.5},{"s":"c3","x":9,"y":-4},{"s":"c3","x":9.5,"y":-5},{"s":"c3","x":10,"y":-3},{"s":"c3","x":10.5,"y":-2},{"s":"c3","x":11,"y":-1},{"s":"c3","x":11.5,"y":0},{"s":"c3","x":12,"y":1},{"s":"c3","x":12.5,"y":0.5},{"s":"c3","x":13,"y":2},{"s":"c3","x":13.5,"y":1.5},{"s":"c3","x":14,"y":3},{"s":"c3","x":14.5,"y":2.5},{"s":"c3","x":15,"y":4},{"s":"c3","x":15.5,"y":3},{"s":"c3","x":16,"y":3.3},{"s":"c3","x":16.5,"y":6.1},{"s":"c3","x":17,"y":5.2},{"s":"c3","x":17.5,"y":5.5},{"s":"c3","x":18,"y":4.5},{"s":"c3","x":18.5,"y":4.1},{"s":"c3","x":18.8,"y":2.4},{"s":"c3","x":19.1,"y":5.5},{"s":"c3","x":19.5,"y":7},{"s":"c3","x":20,"y":6.5},{"s":"c3","x":20.4,"y":6.4},{"s":"c3","x":21,"y":5.5},{"s":"c3","x":21.4,"y":4.6},{"s":"c3","x":21.7,"y":4.1},{"s":"c3","x":22,"y":5},{"s":"c3","x":22.3,"y":4.4},{"s":"c3","x":22.7,"y":11.2},{"s":"c3","x":23,"y":10.5},{"s":"c3","x":23.5,"y":9},{"s":"c3","x":23.9,"y":8.5},
{"s":"l1","x":0,"y":0},{"s":"l1","x":0.5,"y":0.5},{"s":"l1","x":1,"y":0},{"s":"l1","x":1.5,"y":1},{"s":"l1","x":2,"y":0.5},{"s":"l1","x":2.5,"y":1.5},{"s":"l1","x":3,"y":2},{"s":"l1","x":3.5,"y":1},{"s":"l1","x":4,"y":2.5},{"s":"l1","x":4.5,"y":3},{"s":"l1","x":5,"y":2.5},{"s":"l1","x":5.5,"y":4},{"s":"l1","x":6,"y":3.5},{"s":"l1","x":6.5,"y":5},{"s":"l1","x":7,"y":4.5},{"s":"l1","x":7.5,"y":5.5},{"s":"l1","x":8,"y":6.4},{"s":"l1","x":8.5,"y":4.1},{"s":"l1","x":9,"y":5},{"s":"l1","x":9.5,"y":4.5},{"s":"l1","x":10,"y":3},{"s":"l1","x":10.5,"y":4},{"s":"l1","x":11,"y":3.5},{"s":"l1","x":11.5,"y":5},{"s":"l1","x":12,"y":4.5},{"s":"l1","x":12.5,"y":5.5},{"s":"l1","x":13,"y":6},{"s":"l1","x":13.5,"y":6.5},{"s":"l1","x":14.1,"y":7.5},{"s":"l1","x":14.5,"y":6.5},{"s":"l1","x":15,"y":5.8},{"s":"l1","x":15.5,"y":5},{"s":"l1","x":16,"y":4.1},{"s":"l1","x":16.5,"y":3.5},{"s":"l1","x":17,"y":3},{"s":"l1","x":17.5,"y":1.8},{"s":"l1","x":18,"y":1.5},{"s":"l1","x":18.5,"y":1.8},{"s":"l1","x":19,"y":0.5},{"s":"l1","x":19.5,"y":1.3},{"s":"l1","x":20,"y":0.8},{"s":"l1","x":20.5,"y":1.3},{"s":"l1","x":21,"y":0.6},{"s":"l1","x":21.4,"y":0.1},{"s":"l1","x":22,"y":-1},{"s":"l1","x":22.5,"y":0.5},{"s":"l1","x":23,"y":1},{"s":"l1","x":23.3,"y":-0.4},{"s":"l1","x":23.9,"y":-0.4},
{"s":"l2","x":0,"y":0},{"s":"l2","x":0.5,"y":-1.5},{"s":"l2","x":1,"y":-2.5},{"s":"l2","x":1.5,"y":-3.5},{"s":"l2","x":2,"y":-4},{"s":"l2","x":2.5,"y":-5.5},{"s":"l2","x":3.1,"y":-6.7},{"s":"l2","x":3.6,"y":-8.9},{"s":"l2","x":4,"y":-8.1},{"s":"l2","x":4.7,"y":-10.1},{"s":"l2","x":5,"y":-8},{"s":"l2","x":5.5,"y":-7.5},{"s":"l2","x":6,"y":-6.5},{"s":"l2","x":6.5,"y":-8},{"s":"l2","x":7,"y":-7.5},{"s":"l2","x":7.5,"y":-8.5},{"s":"l2","x":8,"y":-9.5},{"s":"l2","x":8.5,"y":-10},{"s":"l2","x":9,"y":-9},{"s":"l2","x":9.5,"y":-10.5},{"s":"l2","x":10,"y":-11},{"s":"l2","x":10.5,"y":-10},{"s":"l2","x":11,"y":-11.5},{"s":"l2","x":11.5,"y":-12},{"s":"l2","x":12,"y":-11.5},{"s":"l2","x":12.5,"y":-12.5},{"s":"l2","x":13,"y":-13},{"s":"l2","x":13.5,"y":-13.5},{"s":"l2","x":14,"y":-14},{"s":"l2","x":14.5,"y":-13.5},{"s":"l2","x":15,"y":-14.5},{"s":"l2","x":15.5,"y":-15},{"s":"l2","x":16,"y":-15.2},{"s":"l2","x":16.5,"y":-16},{"s":"l2","x":17,"y":-17},{"s":"l2","x":17.5,"y":-18},{"s":"l2","x":18,"y":-19},{"s":"l2","x":18.4,"y":-20},{"s":"l2","x":19,"y":-20.5},{"s":"l2","x":19.4,"y":-20.8},{"s":"l2","x":19.8,"y":-20},{"s":"l2","x":20.2,"y":-21},{"s":"l2","x":20.7,"y":-22.2},{"s":"l2","x":21.2,"y":-21.5},{"s":"l2","x":21.8,"y":-20.5},{"s":"l2","x":22.1,"y":-21},{"s":"l2","x":22.4,"y":-17.1},{"s":"l2","x":22.8,"y":-18},{"s":"l2","x":23.3,"y":-16.5},{"s":"l2","x":23.9,"y":-17.7},
{"s":"l3","x":0,"y":0},{"s":"l3","x":0.5,"y":-1},{"s":"l3","x":1,"y":0},{"s":"l3","x":1.5,"y":1},{"s":"l3","x":2,"y":2},{"s":"l3","x":2.5,"y":1.5},{"s":"l3","x":3,"y":3},{"s":"l3","x":3.5,"y":6.1},{"s":"l3","x":4,"y":6.4},{"s":"l3","x":4.5,"y":5.5},{"s":"l3","x":5,"y":6},{"s":"l3","x":5.5,"y":4.5},{"s":"l3","x":6,"y":4},{"s":"l3","x":6.5,"y":3},{"s":"l3","x":7,"y":3.5},{"s":"l3","x":7.5,"y":2},{"s":"l3","x":8,"y":1.5},{"s":"l3","x":8.5,"y":2.5},{"s":"l3","x":9,"y":1},{"s":"l3","x":9.5,"y":0.5},{"s":"l3","x":10,"y":1.5},{"s":"l3","x":10.5,"y":0},{"s":"l3","x":11,"y":-0.5},{"s":"l3","x":11.5,"y":0.5},{"s":"l3","x":12,"y":-1},{"s":"l3","x":12.5,"y":-1.5},{"s":"l3","x":13,"y":-0.5},{"s":"l3","x":13.5,"y":-2},{"s":"l3","x":14,"y":-3},{"s":"l3","x":14.5,"y":-2.5},{"s":"l3","x":15,"y":-3.5},{"s":"l3","x":15.5,"y":-4.5},{"s":"l3","x":16,"y":-4},{"s":"l3","x":16.5,"y":-5.5},{"s":"l3","x":17,"y":-5},{"s":"l3","x":17.5,"y":-6},{"s":"l3","x":18,"y":-6.5},{"s":"l3","x":18.5,"y":-5.5},{"s":"l3","x":19,"y":-6},{"s":"l3","x":19.5,"y":-7},{"s":"l3","x":20,"y":-7.5},{"s":"l3","x":20.5,"y":-8},{"s":"l3","x":21,"y":-7},{"s":"l3","x":21.5,"y":-8.5},{"s":"l3","x":22,"y":-9},{"s":"l3","x":22.5,"y":-10},{"s":"l3","x":23,"y":-11},{"s":"l3","x":23.5,"y":-12},{"s":"l3","x":23.9,"y":-13},
{"s":"b5","x":0,"y":0},{"s":"b5","x":0.5,"y":-1.5},{"s":"b5","x":1,"y":-2},{"s":"b5","x":1.5,"y":-1},{"s":"b5","x":2,"y":-3},{"s":"b5","x":2.5,"y":-2},{"s":"b5","x":3,"y":-3.5},{"s":"b5","x":3.5,"y":0.5},{"s":"b5","x":4,"y":-0.5},{"s":"b5","x":4.5,"y":-2},{"s":"b5","x":5,"y":-1.5},{"s":"b5","x":5.5,"y":-3},{"s":"b5","x":6,"y":2},{"s":"b5","x":6.5,"y":1},{"s":"b5","x":7,"y":0},{"s":"b5","x":7.5,"y":-1},{"s":"b5","x":8,"y":-2},{"s":"b5","x":8.5,"y":-1.5},{"s":"b5","x":9,"y":-3},{"s":"b5","x":9.5,"y":0.5},{"s":"b5","x":10,"y":-0.5},{"s":"b5","x":10.5,"y":-1.5},{"s":"b5","x":11,"y":-2.5},{"s":"b5","x":11.5,"y":-3},{"s":"b5","x":12,"y":-2},{"s":"b5","x":12.5,"y":-3.5},{"s":"b5","x":13,"y":-4.5},{"s":"b5","x":13.5,"y":-3.5},{"s":"b5","x":14,"y":-5},{"s":"b5","x":14.5,"y":-5.5},{"s":"b5","x":15,"y":-6},{"s":"b5","x":15.5,"y":-5},{"s":"b5","x":16,"y":-6.5},{"s":"b5","x":16.5,"y":-7},{"s":"b5","x":17,"y":-7.5},{"s":"b5","x":17.5,"y":-7},{"s":"b5","x":18,"y":-8},{"s":"b5","x":18.5,"y":-9},{"s":"b5","x":19,"y":-9.5},{"s":"b5","x":19.5,"y":-10},{"s":"b5","x":20,"y":-9},{"s":"b5","x":20.5,"y":-10.5},{"s":"b5","x":21,"y":-11},{"s":"b5","x":21.5,"y":-10.5},{"s":"b5","x":22,"y":-11.5},{"s":"b5","x":22.5,"y":-12},{"s":"b5","x":23,"y":-10},{"s":"b5","x":23.5,"y":-8.5},{"s":"b5","x":23.9,"y":-10},
{"s":"b6","x":0,"y":0},{"s":"b6","x":0.5,"y":1},{"s":"b6","x":1,"y":-0.5},{"s":"b6","x":1.5,"y":-1.5},{"s":"b6","x":2,"y":-1},{"s":"b6","x":2.5,"y":-2.5},{"s":"b6","x":3,"y":-2},{"s":"b6","x":3.5,"y":-3},{"s":"b6","x":4,"y":-2.5},{"s":"b6","x":4.5,"y":-4},{"s":"b6","x":5,"y":-2.5},{"s":"b6","x":5.5,"y":-1},{"s":"b6","x":6,"y":-2},{"s":"b6","x":6.5,"y":-3.5},{"s":"b6","x":7,"y":-2.5},{"s":"b6","x":7.5,"y":-1},{"s":"b6","x":8,"y":3},{"s":"b6","x":8.5,"y":2},{"s":"b6","x":9,"y":1.5},{"s":"b6","x":9.5,"y":2.5},{"s":"b6","x":10,"y":1},{"s":"b6","x":10.5,"y":0.5},{"s":"b6","x":11,"y":2},{"s":"b6","x":11.5,"y":1},{"s":"b6","x":12,"y":0.5},{"s":"b6","x":12.5,"y":-0.5},{"s":"b6","x":13,"y":0.5},{"s":"b6","x":13.5,"y":-1},{"s":"b6","x":14,"y":-1.5},{"s":"b6","x":14.5,"y":-2},{"s":"b6","x":15,"y":-1},{"s":"b6","x":15.5,"y":-2.5},{"s":"b6","x":16,"y":-3},{"s":"b6","x":16.5,"y":-4},{"s":"b6","x":17,"y":-3.5},{"s":"b6","x":17.5,"y":-5},{"s":"b6","x":18,"y":-5.5},{"s":"b6","x":18.5,"y":-6},{"s":"b6","x":19,"y":-5},{"s":"b6","x":19.5,"y":-6.5},{"s":"b6","x":20,"y":-7},{"s":"b6","x":20.5,"y":-6.5},{"s":"b6","x":21,"y":-7.5},{"s":"b6","x":21.5,"y":-8},{"s":"b6","x":22,"y":-7},{"s":"b6","x":22.5,"y":-8.5},{"s":"b6","x":23,"y":-5},{"s":"b6","x":23.5,"y":-4},{"s":"b6","x":23.9,"y":-2.5},
{"s":"n2","x":0,"y":0},{"s":"n2","x":0.5,"y":-1},{"s":"n2","x":1,"y":-2},{"s":"n2","x":1.5,"y":-1},{"s":"n2","x":2,"y":0.5},{"s":"n2","x":2.5,"y":-0.5},{"s":"n2","x":3,"y":1.5},{"s":"n2","x":3.5,"y":3},{"s":"n2","x":4,"y":2},{"s":"n2","x":4.5,"y":3.5},{"s":"n2","x":5,"y":3},{"s":"n2","x":5.5,"y":5.5},{"s":"n2","x":6,"y":4.5},{"s":"n2","x":6.5,"y":6},{"s":"n2","x":7,"y":5},{"s":"n2","x":7.5,"y":7.5},{"s":"n2","x":8,"y":6.5},{"s":"n2","x":8.5,"y":5},{"s":"n2","x":9,"y":6},{"s":"n2","x":9.5,"y":4.5},{"s":"n2","x":10,"y":5.5},{"s":"n2","x":10.5,"y":7},{"s":"n2","x":11,"y":6},{"s":"n2","x":11.5,"y":5},{"s":"n2","x":12,"y":6},{"s":"n2","x":12.5,"y":7.5},{"s":"n2","x":13,"y":6.5},{"s":"n2","x":13.5,"y":8},{"s":"n2","x":14,"y":9.5},{"s":"n2","x":14.5,"y":8.5},{"s":"n2","x":15,"y":10},{"s":"n2","x":15.5,"y":11.5},{"s":"n2","x":16,"y":10.5},{"s":"n2","x":16.5,"y":12},{"s":"n2","x":17,"y":11},{"s":"n2","x":17.5,"y":10},{"s":"n2","x":18,"y":9},{"s":"n2","x":18.5,"y":7.5},{"s":"n2","x":19,"y":6.5},{"s":"n2","x":19.5,"y":5.5},{"s":"n2","x":20,"y":6},{"s":"n2","x":20.5,"y":4.5},{"s":"n2","x":21,"y":3.5},{"s":"n2","x":21.5,"y":2.5},{"s":"n2","x":22,"y":1.5},{"s":"n2","x":22.5,"y":0.5},{"s":"n2","x":23,"y":-0.5},{"s":"n2","x":23.5,"y":-1},{"s":"n2","x":23.9,"y":-1.5}
]},
"layer":[
{"mark":{"type":"line","strokeWidth":1,"clip":true},
 "encoding":{
  "x":{"field":"x","type":"quantitative","scale":{"domain":[0,23.93],"nice":false,"zero":false},
       "axis":{"orient":"bottom","values":[0,1,2,3,4,5,6,7,8,9,10,11,12,13,14,15,16,17,18,19,20,21,22,23],"title":"Hour of Day","labelPadding":10,"titlePadding":4}},
  "y":{"field":"y","type":"quantitative","scale":{"domain":[-30,40],"nice":false,"zero":false},
       "axis":{"orient":"left","values":[-30,-20,-10,0,10,20,30,40],"title":"Cumulative (Z*Z)-1","labelPadding":13,"titlePadding":6}},
  "color":{"field":"s","type":"nominal","legend":null,
    "scale":{"domain":["b1","b2","b3","b5","b6","n1","n2","l1","l2","l3","c1","c2","c3","r1","r2","r3","r4","d1","d2","d3","g1","g2","g3","m1","m2","m3","y1","y2","y3"],
             "range":["#0000ff","#0000ff","#0000ff","#0000ff","#0000ff","#0000a0","#0000a0","#6060ff","#6060ff","#6060ff","#00ffff","#00ffff","#00ffff","#ff0000","#ff0000","#ff0000","#ff0000","#a00000","#a00000","#a00000","#00a000","#00a000","#00a000","#ff40ff","#ff40ff","#ff40ff","#ffff00","#ffff00","#ffff00"]}}
 }},
{"mark":{"type":"line","opacity":0},
 "encoding":{
  "x":{"field":"x","type":"quantitative","axis":{"orient":"top","values":[0,1,2,3,4,5,6,7,8,9,10,11,12,13,14,15,16,17,18,19,20,21,22,23],"labels":false,"title":null}},
  "y":{"field":"y","type":"quantitative","axis":{"orient":"right","values":[-30,-20,-10,0,10,20,30,40],"labels":false,"title":null}},
  "detail":{"field":"s"}
 }}
],
"resolve":{"axis":{"x":"independent","y":"independent"}}
}
